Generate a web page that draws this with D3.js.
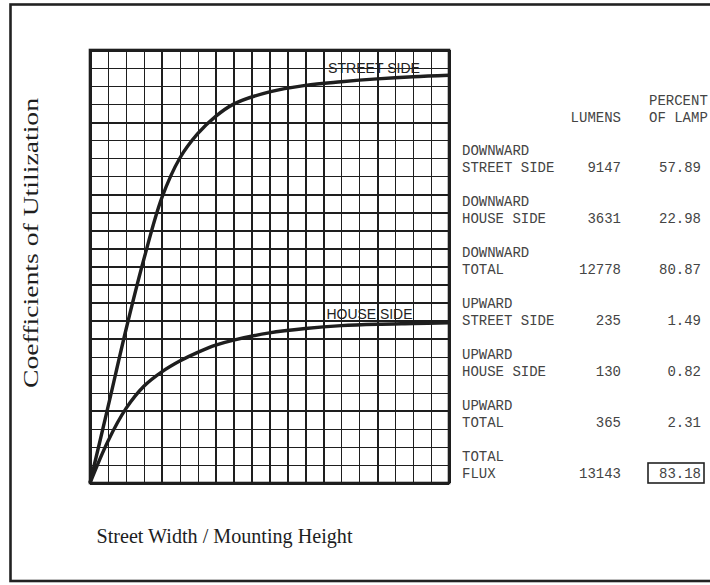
<!DOCTYPE html>
<meta charset="utf-8">
<style>

body {
  margin: 0;
  background: #fff;
}

.grid line {
  stroke: #1e1e1e;
  stroke-width: 1.4;
  shape-rendering: crispEdges;
}

.grid line.major {
  stroke-width: 2.1;
}

.grid path {
  display: none;
}

.curve {
  fill: none;
  stroke: #1e1e1e;
  stroke-width: 3.4;
}

.table text {
  font: 14px "Liberation Mono", monospace;
  fill: #444;
}

.serif {
  font-family: "Liberation Serif", "DejaVu Serif", serif;
  fill: #1e1e1e;
}

</style>
<svg width="710" height="585"></svg>
<script src="https://d3js.org/d3.v7.min.js"></script>
<script>

// street width / mounting height ratio
var ratio = [0, 0.25, 0.5, 0.75, 1.0, 1.25, 1.5, 1.75, 2.0, 2.5, 3.0, 3.5, 4.0, 4.5, 5.0];

// coefficients of utilization
var streetSide = [0, 0.105, 0.212, 0.31, 0.395, 0.450, 0.484, 0.508, 0.525, 0.542, 0.551, 0.556, 0.560, 0.563, 0.565];
var houseSide  = [0, 0.058, 0.103, 0.134, 0.154, 0.169, 0.181, 0.191, 0.198, 0.208, 0.214, 0.218, 0.220, 0.221, 0.222];

// grid divisions
var xGridValues = d3.range(0, 21).map(function(i) { return i * 0.25; });
var yGridValues = d3.range(0, 25).map(function(i) { return i * 0.025; });

// flux table
var rowGroups = ["DOWNWARD", "DOWNWARD", "DOWNWARD", "UPWARD", "UPWARD", "UPWARD", "TOTAL"];
var rowLabels = ["STREET SIDE", "HOUSE SIDE", "TOTAL", "STREET SIDE", "HOUSE SIDE", "TOTAL", "FLUX"];
var lumens = [9147, 3631, 12778, 235, 130, 365, 13143];
var percentOfLamp = ["57.89", "22.98", "80.87", "1.49", "0.82", "2.31", "83.18"];

var svg = d3.select("svg");

var margin = {left: 90, top: 50},
    width = 359,
    height = 433;

// outer frame (right side runs off the page)
svg.append("rect")
    .attr("x", 10.5)
    .attr("y", 4.5)
    .attr("width", 720)
    .attr("height", 576.5)
    .attr("fill", "none")
    .attr("stroke", "#222")
    .attr("stroke-width", 2.6);

var x = d3.scaleLinear().domain([0, 5]).range([0, width]);
var y = d3.scaleLinear().domain([0, 0.6]).range([height, 0]);

var g = svg.append("g")
    .attr("transform", "translate(" + margin.left + "," + margin.top + ")");

g.append("g")
    .attr("class", "grid")
    .attr("transform", "translate(0," + height + ")")
    .call(d3.axisBottom(x).tickValues(xGridValues).tickSize(-height).tickFormat(""))
  .selectAll(".tick line")
    .classed("major", function(d, i) { return i % 4 === 0; });

g.append("g")
    .attr("class", "grid")
    .call(d3.axisLeft(y).tickValues(yGridValues).tickSize(-width).tickFormat(""))
  .selectAll(".tick line")
    .classed("major", function(d, i) { return i % 4 === 0; });

g.append("rect")
    .attr("width", width)
    .attr("height", height)
    .attr("fill", "none")
    .attr("stroke", "#1e1e1e")
    .attr("stroke-width", 2.6);

var line = d3.line()
    .x(function(d) { return x(d[0]); })
    .y(function(d) { return y(d[1]); })
    .curve(d3.curveCatmullRom.alpha(0.5));

g.append("path")
    .attr("class", "curve")
    .attr("d", line(d3.zip(ratio, streetSide)));

g.append("path")
    .attr("class", "curve")
    .attr("d", line(d3.zip(ratio, houseSide)));

g.append("text")
    .attr("x", 238)
    .attr("y", 22.5)
    .attr("textLength", 92)
    .attr("lengthAdjust", "spacingAndGlyphs")
    .style("font", "15px 'Liberation Sans', Arial, sans-serif")
    .style("fill", "#222")
    .text("STREET SIDE");

g.append("text")
    .attr("x", 236.5)
    .attr("y", 268.5)
    .attr("textLength", 86)
    .attr("lengthAdjust", "spacingAndGlyphs")
    .style("font", "15px 'Liberation Sans', Arial, sans-serif")
    .style("fill", "#222")
    .text("HOUSE SIDE");

// axis titles
svg.append("text")
    .attr("class", "serif")
    .attr("transform", "translate(38,243) rotate(-90)")
    .attr("text-anchor", "middle")
    .attr("textLength", 290)
    .attr("lengthAdjust", "spacingAndGlyphs")
    .style("font-size", "21px")
    .text("Coefficients of Utilization");

svg.append("text")
    .attr("class", "serif")
    .attr("x", 96.5)
    .attr("y", 543)
    .attr("textLength", 256)
    .attr("lengthAdjust", "spacingAndGlyphs")
    .style("font-size", "20px")
    .text("Street Width / Mounting Height");

// table
var rowY = d3.scaleLinear().domain([0, 6]).range([155, 461]);

var table = svg.append("g").attr("class", "table");

table.append("text").attr("x", 649).attr("y", 105).text("PERCENT");
table.append("text").attr("x", 621).attr("y", 122).attr("text-anchor", "end").text("LUMENS");
table.append("text").attr("x", 649).attr("y", 122).text("OF LAMP");

var row = table.selectAll(".row")
  .data(d3.range(rowLabels.length))
  .enter().append("g")
    .attr("class", "row")
    .attr("transform", function(i) { return "translate(0," + rowY(i) + ")"; });

row.append("text")
    .attr("x", 462)
    .text(function(i) { return rowGroups[i]; });

row.append("text")
    .attr("x", 462)
    .attr("y", 16.5)
    .text(function(i) { return rowLabels[i]; });

row.append("text")
    .attr("x", 621)
    .attr("y", 16.5)
    .attr("text-anchor", "end")
    .text(function(i) { return lumens[i]; });

row.append("text")
    .attr("x", 701)
    .attr("y", 16.5)
    .attr("text-anchor", "end")
    .text(function(i) { return percentOfLamp[i]; });

// box round the total percentage
table.append("rect")
    .attr("x", 648)
    .attr("y", rowY(6) + 2)
    .attr("width", 56)
    .attr("height", 20)
    .attr("fill", "none")
    .attr("stroke", "#222")
    .attr("stroke-width", 1.6);

</script>
